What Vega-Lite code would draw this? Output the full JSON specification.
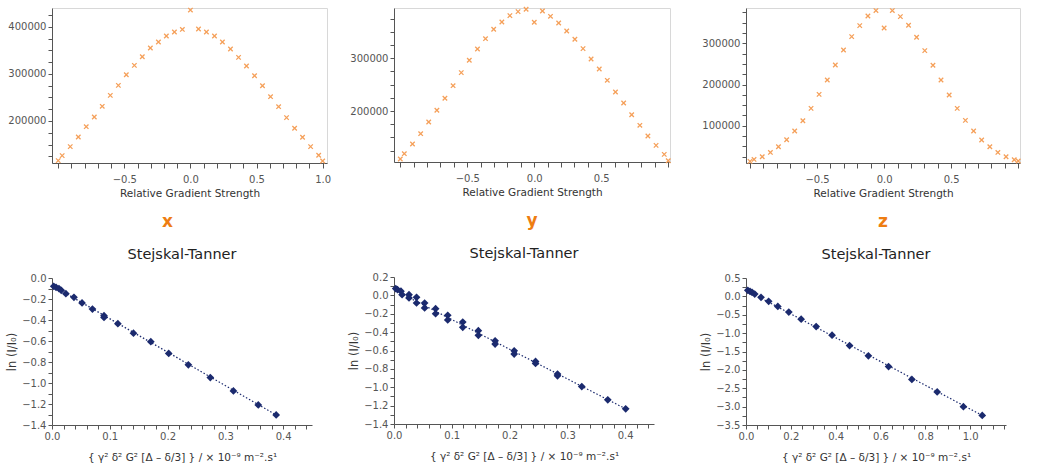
{
  "$schema": "https://vega.github.io/schema/vega-lite/v6.json",
  "padding": {"left": 6, "top": 3, "right": 0, "bottom": 0},
  "spacing": 26,
  "datasets": {
    "gradient": [
      {"axis": "x", "g": -1, "I": 115900}, {"axis": "x", "g": -0.97, "I": 126500}, {"axis": "x", "g": -0.909, "I": 145600},
      {"axis": "x", "g": -0.848, "I": 166100}, {"axis": "x", "g": -0.788, "I": 188000}, {"axis": "x", "g": -0.727, "I": 208500},
      {"axis": "x", "g": -0.667, "I": 231100}, {"axis": "x", "g": -0.606, "I": 254400}, {"axis": "x", "g": -0.545, "I": 275600},
      {"axis": "x", "g": -0.485, "I": 298200}, {"axis": "x", "g": -0.424, "I": 318000}, {"axis": "x", "g": -0.364, "I": 336400},
      {"axis": "x", "g": -0.303, "I": 354800}, {"axis": "x", "g": -0.242, "I": 367500}, {"axis": "x", "g": -0.182, "I": 380200},
      {"axis": "x", "g": -0.121, "I": 388700}, {"axis": "x", "g": -0.061, "I": 394300}, {"axis": "x", "g": 0, "I": 435300},
      {"axis": "x", "g": 0.061, "I": 395100}, {"axis": "x", "g": 0.121, "I": 388700}, {"axis": "x", "g": 0.182, "I": 380200},
      {"axis": "x", "g": 0.242, "I": 367500}, {"axis": "x", "g": 0.303, "I": 352700}, {"axis": "x", "g": 0.364, "I": 335000},
      {"axis": "x", "g": 0.424, "I": 316600}, {"axis": "x", "g": 0.485, "I": 296100}, {"axis": "x", "g": 0.545, "I": 274900},
      {"axis": "x", "g": 0.606, "I": 251600}, {"axis": "x", "g": 0.667, "I": 230400}, {"axis": "x", "g": 0.727, "I": 207100},
      {"axis": "x", "g": 0.788, "I": 184500}, {"axis": "x", "g": 0.848, "I": 165400}, {"axis": "x", "g": 0.909, "I": 145600},
      {"axis": "x", "g": 0.97, "I": 127200}, {"axis": "x", "g": 1, "I": 115200},
      {"axis": "y", "g": -1, "I": 108900}, {"axis": "y", "g": -0.97, "I": 119000}, {"axis": "y", "g": -0.909, "I": 137300},
      {"axis": "y", "g": -0.848, "I": 157000}, {"axis": "y", "g": -0.788, "I": 179100}, {"axis": "y", "g": -0.727, "I": 201300},
      {"axis": "y", "g": -0.667, "I": 224100}, {"axis": "y", "g": -0.606, "I": 248100}, {"axis": "y", "g": -0.545, "I": 272800},
      {"axis": "y", "g": -0.485, "I": 296200}, {"axis": "y", "g": -0.424, "I": 317700}, {"axis": "y", "g": -0.364, "I": 337300},
      {"axis": "y", "g": -0.303, "I": 355100}, {"axis": "y", "g": -0.242, "I": 369000}, {"axis": "y", "g": -0.182, "I": 381000},
      {"axis": "y", "g": -0.121, "I": 388600}, {"axis": "y", "g": -0.061, "I": 393000}, {"axis": "y", "g": 0, "I": 368400},
      {"axis": "y", "g": 0.061, "I": 389900}, {"axis": "y", "g": 0.121, "I": 379700}, {"axis": "y", "g": 0.182, "I": 367100},
      {"axis": "y", "g": 0.242, "I": 351900}, {"axis": "y", "g": 0.303, "I": 336100}, {"axis": "y", "g": 0.364, "I": 318400},
      {"axis": "y", "g": 0.424, "I": 298700}, {"axis": "y", "g": 0.485, "I": 279700}, {"axis": "y", "g": 0.545, "I": 258200},
      {"axis": "y", "g": 0.606, "I": 236100}, {"axis": "y", "g": 0.667, "I": 215200}, {"axis": "y", "g": 0.727, "I": 193000},
      {"axis": "y", "g": 0.788, "I": 172800}, {"axis": "y", "g": 0.848, "I": 152500}, {"axis": "y", "g": 0.909, "I": 134800},
      {"axis": "y", "g": 0.97, "I": 117700}, {"axis": "y", "g": 1, "I": 105700},
      {"axis": "z", "g": -1, "I": 13400}, {"axis": "z", "g": -0.97, "I": 18200}, {"axis": "z", "g": -0.909, "I": 24700},
      {"axis": "z", "g": -0.848, "I": 35200}, {"axis": "z", "g": -0.788, "I": 49000}, {"axis": "z", "g": -0.727, "I": 66000},
      {"axis": "z", "g": -0.667, "I": 87000}, {"axis": "z", "g": -0.606, "I": 112100}, {"axis": "z", "g": -0.545, "I": 142100},
      {"axis": "z", "g": -0.485, "I": 176100}, {"axis": "z", "g": -0.424, "I": 210900}, {"axis": "z", "g": -0.364, "I": 247400},
      {"axis": "z", "g": -0.303, "I": 283800}, {"axis": "z", "g": -0.242, "I": 316200}, {"axis": "z", "g": -0.182, "I": 342900},
      {"axis": "z", "g": -0.121, "I": 366400}, {"axis": "z", "g": -0.061, "I": 379400}, {"axis": "z", "g": 0, "I": 337200},
      {"axis": "z", "g": 0.061, "I": 379400}, {"axis": "z", "g": 0.121, "I": 364800}, {"axis": "z", "g": 0.182, "I": 343700},
      {"axis": "z", "g": 0.242, "I": 314600}, {"axis": "z", "g": 0.303, "I": 282200}, {"axis": "z", "g": 0.364, "I": 246600},
      {"axis": "z", "g": 0.424, "I": 210900}, {"axis": "z", "g": 0.485, "I": 174500}, {"axis": "z", "g": 0.545, "I": 142100},
      {"axis": "z", "g": 0.606, "I": 113000}, {"axis": "z", "g": 0.667, "I": 87000}, {"axis": "z", "g": 0.727, "I": 65200},
      {"axis": "z", "g": 0.788, "I": 49000}, {"axis": "z", "g": 0.848, "I": 35200}, {"axis": "z", "g": 0.909, "I": 24700},
      {"axis": "z", "g": 0.97, "I": 17400}, {"axis": "z", "g": 1, "I": 14200}
    ],
    "st": [
      {"axis": "x", "b": 0.003, "lnI": -0.079}, {"axis": "x", "b": 0.007, "lnI": -0.089}, {"axis": "x", "b": 0.012, "lnI": -0.101},
      {"axis": "x", "b": 0.016, "lnI": -0.117}, {"axis": "x", "b": 0.024, "lnI": -0.149}, {"axis": "x", "b": 0.038, "lnI": -0.184},
      {"axis": "x", "b": 0.052, "lnI": -0.238}, {"axis": "x", "b": 0.07, "lnI": -0.296}, {"axis": "x", "b": 0.09, "lnI": -0.359},
      {"axis": "x", "b": 0.09, "lnI": -0.375}, {"axis": "x", "b": 0.114, "lnI": -0.435}, {"axis": "x", "b": 0.141, "lnI": -0.525},
      {"axis": "x", "b": 0.171, "lnI": -0.607}, {"axis": "x", "b": 0.202, "lnI": -0.719}, {"axis": "x", "b": 0.236, "lnI": -0.827},
      {"axis": "x", "b": 0.274, "lnI": -0.948}, {"axis": "x", "b": 0.314, "lnI": -1.075}, {"axis": "x", "b": 0.357, "lnI": -1.209},
      {"axis": "x", "b": 0.388, "lnI": -1.304},
      {"axis": "y", "b": 0.003, "lnI": 0.074}, {"axis": "y", "b": 0.006, "lnI": 0.063}, {"axis": "y", "b": 0.012, "lnI": 0.045},
      {"axis": "y", "b": 0.014, "lnI": 0.008}, {"axis": "y", "b": 0.026, "lnI": 0.008}, {"axis": "y", "b": 0.026, "lnI": -0.028},
      {"axis": "y", "b": 0.039, "lnI": -0.021}, {"axis": "y", "b": 0.039, "lnI": -0.083}, {"axis": "y", "b": 0.053, "lnI": -0.083},
      {"axis": "y", "b": 0.053, "lnI": -0.137}, {"axis": "y", "b": 0.072, "lnI": -0.145}, {"axis": "y", "b": 0.072, "lnI": -0.199},
      {"axis": "y", "b": 0.093, "lnI": -0.217}, {"axis": "y", "b": 0.093, "lnI": -0.268}, {"axis": "y", "b": 0.119, "lnI": -0.29},
      {"axis": "y", "b": 0.119, "lnI": -0.348}, {"axis": "y", "b": 0.146, "lnI": -0.385}, {"axis": "y", "b": 0.146, "lnI": -0.435},
      {"axis": "y", "b": 0.175, "lnI": -0.494}, {"axis": "y", "b": 0.175, "lnI": -0.53}, {"axis": "y", "b": 0.208, "lnI": -0.603},
      {"axis": "y", "b": 0.208, "lnI": -0.639}, {"axis": "y", "b": 0.245, "lnI": -0.719}, {"axis": "y", "b": 0.245, "lnI": -0.741},
      {"axis": "y", "b": 0.283, "lnI": -0.857}, {"axis": "y", "b": 0.283, "lnI": -0.875}, {"axis": "y", "b": 0.325, "lnI": -0.992},
      {"axis": "y", "b": 0.37, "lnI": -1.137}, {"axis": "y", "b": 0.401, "lnI": -1.235},
      {"axis": "z", "b": 0.008, "lnI": 0.164}, {"axis": "z", "b": 0.018, "lnI": 0.136}, {"axis": "z", "b": 0.027, "lnI": 0.109},
      {"axis": "z", "b": 0.039, "lnI": 0.063}, {"axis": "z", "b": 0.067, "lnI": -0.027}, {"axis": "z", "b": 0.101, "lnI": -0.136},
      {"axis": "z", "b": 0.142, "lnI": -0.273}, {"axis": "z", "b": 0.191, "lnI": -0.428}, {"axis": "z", "b": 0.246, "lnI": -0.62},
      {"axis": "z", "b": 0.313, "lnI": -0.82}, {"axis": "z", "b": 0.384, "lnI": -1.056}, {"axis": "z", "b": 0.462, "lnI": -1.337},
      {"axis": "z", "b": 0.546, "lnI": -1.618}, {"axis": "z", "b": 0.636, "lnI": -1.91}, {"axis": "z", "b": 0.74, "lnI": -2.26},
      {"axis": "z", "b": 0.853, "lnI": -2.6}, {"axis": "z", "b": 0.97, "lnI": -3.0}, {"axis": "z", "b": 1.054, "lnI": -3.24}
    ],
    "fit": [
      {"axis": "x", "b": 0, "lnI": -0.07}, {"axis": "x", "b": 0.39, "lnI": -1.31},
      {"axis": "y", "b": 0, "lnI": 0.06}, {"axis": "y", "b": 0.401, "lnI": -1.235},
      {"axis": "z", "b": 0, "lnI": 0.17}, {"axis": "z", "b": 1.054, "lnI": -3.24}
    ]
  },
  "hconcat": [
    {
      "spacing": 16,
      "hconcat": [
        {
          "spacing": 16,
          "vconcat": [
            {
              "width": 275,
              "height": 155,
              "view": {"stroke": "#d8d8d8"},
              "title": {"text": "x", "orient": "bottom", "color": "#ee7d12", "fontSize": 17, "fontWeight": "bold", "dx": -22, "offset": 15},
              "data": {"name": "gradient"},
              "transform": [{"filter": "datum.axis === 'x'"}],
              "mark": {"type": "point", "shape": "M-1,-1L1,1M1,-1L-1,1", "filled": false, "stroke": "#f5a05a", "strokeWidth": 1.3, "size": 20, "opacity": 1},
              "encoding": {
                "x": {
                  "field": "g", "type": "quantitative",
                  "scale": {"domain": [-1.047, 1.033], "nice": false, "zero": false},
                  "axis": {
                    "title": "Relative Gradient Strength", "format": ".1f", "tickSize": 5, "labelPadding": 6,
                    "values": [-1, -0.9, -0.8, -0.7, -0.6, -0.5, -0.4, -0.3, -0.2, -0.1, 0, 0.1, 0.2, 0.3, 0.4, 0.5, 0.6, 0.7, 0.8, 0.9, 1],
                    "labelExpr": "abs(datum.value) < 0.01 || abs(abs(datum.value) - 0.5) < 0.01 || datum.value > 0.99 ? datum.label : ''"
                  }
                },
                "y": {
                  "field": "I", "type": "quantitative",
                  "scale": {"domain": [110900, 439700], "nice": false, "zero": false},
                  "axis": {
                    "title": null, "format": "d",
                    "values": [125000, 150000, 175000, 200000, 225000, 250000, 275000, 300000, 325000, 350000, 375000, 400000, 425000],
                    "labelExpr": "datum.value % 100000 === 0 ? datum.label : ''"
                  }
                }
              }
            },
            {
              "width": 260,
              "height": 147,
              "title": {"text": "Stejskal-Tanner", "fontSize": 14.5, "fontWeight": "normal", "color": "#222", "offset": 11},
              "encoding": {
                "x": {
                  "field": "b", "type": "quantitative",
                  "scale": {"domain": [0, 0.45], "nice": false},
                  "axis": {
                    "title": "{ γ² δ² G² [Δ – δ/3] } / × 10⁻⁹ m⁻².s¹", "format": ".1f", "titlePadding": 11,
                    "values": [0, 0.02, 0.04, 0.06, 0.08, 0.1, 0.12, 0.14, 0.16, 0.18, 0.2, 0.22, 0.24, 0.26, 0.28, 0.3, 0.32, 0.34, 0.36, 0.38, 0.4, 0.42, 0.44],
                    "labelExpr": "abs(datum.value * 10 - round(datum.value * 10)) < 0.001 ? datum.label : ''"
                  }
                },
                "y": {
                  "field": "lnI", "type": "quantitative",
                  "scale": {"domain": [-1.4, 0], "nice": false},
                  "axis": {
                    "title": "ln (I/I₀)", "format": ".1f", "titleFontSize": 11.5,
                    "values": [-1.4, -1.3, -1.2, -1.1, -1, -0.9, -0.8, -0.7, -0.6, -0.5, -0.4, -0.3, -0.2, -0.1, 0],
                    "labelExpr": "abs(datum.value * 5 - round(datum.value * 5)) < 0.001 ? datum.label : ''"
                  }
                }
              },
              "layer": [
                {"data": {"name": "fit"}, "transform": [{"filter": "datum.axis === 'x'"}], "mark": {"type": "line", "strokeDash": [1.5, 2], "color": "#1b2a6e", "strokeWidth": 1.2}},
                {"data": {"name": "st"}, "transform": [{"filter": "datum.axis === 'x'"}], "mark": {"type": "point", "shape": "diamond", "filled": true, "color": "#1b2a6e", "size": 60, "opacity": 1}}
              ]
            }
          ]
        },
        {
          "spacing": 16,
          "vconcat": [
            {
              "width": 276,
              "height": 154,
              "view": {"stroke": "#d8d8d8"},
              "title": {"text": "y", "orient": "bottom", "color": "#ee7d12", "fontSize": 17, "fontWeight": "bold", "offset": 15},
              "data": {"name": "gradient"},
              "transform": [{"filter": "datum.axis === 'y'"}],
              "mark": {"type": "point", "shape": "M-1,-1L1,1M1,-1L-1,1", "filled": false, "stroke": "#f5a05a", "strokeWidth": 1.3, "size": 20, "opacity": 1},
              "encoding": {
                "x": {
                  "field": "g", "type": "quantitative",
                  "scale": {"domain": [-1.047, 1.013], "nice": false, "zero": false},
                  "axis": {
                    "title": "Relative Gradient Strength", "format": ".1f", "tickSize": 5, "labelPadding": 6,
                    "values": [-1, -0.9, -0.8, -0.7, -0.6, -0.5, -0.4, -0.3, -0.2, -0.1, 0, 0.1, 0.2, 0.3, 0.4, 0.5, 0.6, 0.7, 0.8, 0.9, 1],
                    "labelExpr": "abs(datum.value) < 0.01 || abs(abs(datum.value) - 0.5) < 0.01 ? datum.label : ''"
                  }
                },
                "y": {
                  "field": "I", "type": "quantitative",
                  "scale": {"domain": [103200, 395500], "nice": false, "zero": false},
                  "axis": {
                    "title": null, "format": "d",
                    "values": [125000, 150000, 175000, 200000, 225000, 250000, 275000, 300000, 325000, 350000, 375000],
                    "labelExpr": "datum.value % 100000 === 0 ? datum.label : ''"
                  }
                }
              }
            },
            {
              "width": 260,
              "height": 147,
              "title": {"text": "Stejskal-Tanner", "fontSize": 14.5, "fontWeight": "normal", "color": "#222", "offset": 11},
              "encoding": {
                "x": {
                  "field": "b", "type": "quantitative",
                  "scale": {"domain": [0, 0.45], "nice": false},
                  "axis": {
                    "title": "{ γ² δ² G² [Δ – δ/3] } / × 10⁻⁹ m⁻².s¹", "format": ".1f", "titlePadding": 11,
                    "values": [0, 0.02, 0.04, 0.06, 0.08, 0.1, 0.12, 0.14, 0.16, 0.18, 0.2, 0.22, 0.24, 0.26, 0.28, 0.3, 0.32, 0.34, 0.36, 0.38, 0.4, 0.42, 0.44],
                    "labelExpr": "abs(datum.value * 10 - round(datum.value * 10)) < 0.001 ? datum.label : ''"
                  }
                },
                "y": {
                  "field": "lnI", "type": "quantitative",
                  "scale": {"domain": [-1.4, 0.2], "nice": false},
                  "axis": {
                    "title": "ln (I/I₀)", "format": ".1f", "titleFontSize": 11.5,
                    "values": [-1.4, -1.3, -1.2, -1.1, -1, -0.9, -0.8, -0.7, -0.6, -0.5, -0.4, -0.3, -0.2, -0.1, 0, 0.1, 0.2],
                    "labelExpr": "abs(datum.value * 5 - round(datum.value * 5)) < 0.001 ? datum.label : ''"
                  }
                }
              },
              "layer": [
                {"data": {"name": "fit"}, "transform": [{"filter": "datum.axis === 'y'"}], "mark": {"type": "line", "strokeDash": [1.5, 2], "color": "#1b2a6e", "strokeWidth": 1.2}},
                {"data": {"name": "st"}, "transform": [{"filter": "datum.axis === 'y'"}], "mark": {"type": "point", "shape": "diamond", "filled": true, "color": "#1b2a6e", "size": 60, "opacity": 1}}
              ]
            }
          ]
        }
      ]
    },
    {
      "spacing": 16,
      "vconcat": [
        {
          "width": 274,
          "height": 155,
          "view": {"stroke": "#d8d8d8"},
          "title": {"text": "z", "orient": "bottom", "color": "#ee7d12", "fontSize": 17, "fontWeight": "bold", "offset": 15},
          "data": {"name": "gradient"},
          "transform": [{"filter": "datum.axis === 'z'"}],
          "mark": {"type": "point", "shape": "M-1,-1L1,1M1,-1L-1,1", "filled": false, "stroke": "#f5a05a", "strokeWidth": 1.3, "size": 20, "opacity": 1},
          "encoding": {
            "x": {
              "field": "g", "type": "quantitative",
              "scale": {"domain": [-1.03, 1.013], "nice": false, "zero": false},
              "axis": {
                "title": "Relative Gradient Strength", "format": ".1f", "tickSize": 5, "labelPadding": 6,
                "values": [-1, -0.9, -0.8, -0.7, -0.6, -0.5, -0.4, -0.3, -0.2, -0.1, 0, 0.1, 0.2, 0.3, 0.4, 0.5, 0.6, 0.7, 0.8, 0.9, 1],
                "labelExpr": "abs(datum.value) < 0.01 || abs(abs(datum.value) - 0.5) < 0.01 ? datum.label : ''"
              }
            },
            "y": {
              "field": "I", "type": "quantitative",
              "scale": {"domain": [9500, 385700], "nice": false, "zero": false},
              "axis": {
                "title": null, "format": "d",
                "values": [25000, 50000, 75000, 100000, 125000, 150000, 175000, 200000, 225000, 250000, 275000, 300000, 325000, 350000, 375000],
                "labelExpr": "datum.value % 100000 === 0 ? datum.label : ''"
              }
            }
          }
        },
        {
          "width": 260,
          "height": 147,
          "title": {"text": "Stejskal-Tanner", "fontSize": 14.5, "fontWeight": "normal", "color": "#222", "offset": 11},
          "encoding": {
            "x": {
              "field": "b", "type": "quantitative",
              "scale": {"domain": [0, 1.16], "nice": false},
              "axis": {
                "title": "{ γ² δ² G² [Δ – δ/3] } / × 10⁻⁹ m⁻².s¹", "format": ".1f", "titlePadding": 11,
                "values": [0, 0.05, 0.1, 0.15, 0.2, 0.25, 0.3, 0.35, 0.4, 0.45, 0.5, 0.55, 0.6, 0.65, 0.7, 0.75, 0.8, 0.85, 0.9, 0.95, 1, 1.05, 1.1, 1.15],
                "labelExpr": "abs(datum.value * 5 - round(datum.value * 5)) < 0.001 ? datum.label : ''"
              }
            },
            "y": {
              "field": "lnI", "type": "quantitative",
              "scale": {"domain": [-3.5, 0.5], "nice": false},
              "axis": {
                "title": "ln (I/I₀)", "format": ".1f", "titleFontSize": 11.5,
                "values": [-3.5, -3.25, -3, -2.75, -2.5, -2.25, -2, -1.75, -1.5, -1.25, -1, -0.75, -0.5, -0.25, 0, 0.25, 0.5],
                "labelExpr": "abs(datum.value * 2 - round(datum.value * 2)) < 0.001 ? datum.label : ''"
              }
            }
          },
          "layer": [
            {"data": {"name": "fit"}, "transform": [{"filter": "datum.axis === 'z'"}], "mark": {"type": "line", "strokeDash": [1.5, 2], "color": "#1b2a6e", "strokeWidth": 1.2}},
            {"data": {"name": "st"}, "transform": [{"filter": "datum.axis === 'z'"}], "mark": {"type": "point", "shape": "diamond", "filled": true, "color": "#1b2a6e", "size": 60, "opacity": 1}}
          ]
        }
      ]
    }
  ],
  "config": {
    "font": "DejaVu Sans",
    "view": {"stroke": null},
    "axis": {
      "grid": false,
      "labelFont": "DejaVu Sans", "labelFontSize": 10, "labelColor": "#555",
      "titleFont": "DejaVu Sans", "titleFontSize": 10.5, "titleFontWeight": "normal", "titleColor": "#333",
      "domainColor": "#555", "tickColor": "#555", "tickSize": 4, "labelOverlap": false, "labelFlush": false
    },
    "title": {"font": "DejaVu Sans"}
  }
}
